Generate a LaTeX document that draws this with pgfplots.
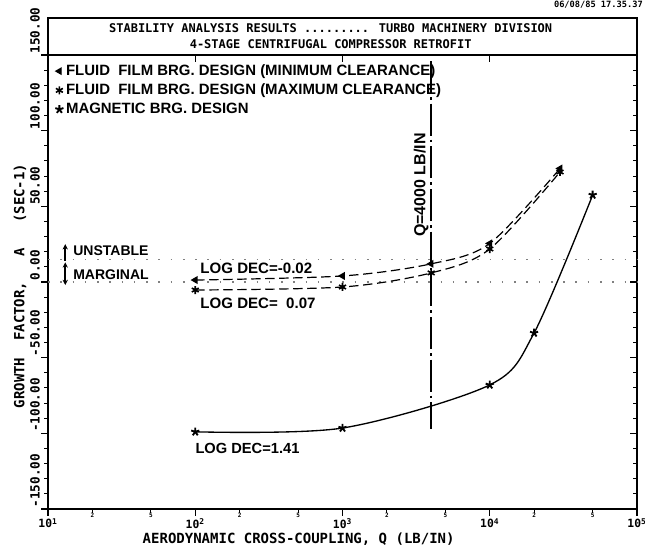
\documentclass[border=0pt]{standalone}
\usepackage{pgfplots}
\pgfplotsset{compat=1.18}
\usepackage{fontspec}
\setmainfont{Liberation Sans}
\newfontfamily\plotter{DejaVu Sans Mono}
\usetikzlibrary{arrows.meta}
\newcommand\fs[1]{\fontsize{#1}{#1}\selectfont}

\begin{document}
\begin{tikzpicture}
\begin{axis}[name=ax, scale only axis, width=441.75pt, height=340.5pt,
  xmode=log, log basis x=10, xmin=10, xmax=100000, ymin=-150, ymax=150,
  xtick={10,100,1000,10000,100000},
  xticklabels={{10\textsuperscript{1}},{10\textsuperscript{2}},{10\textsuperscript{3}},{10\textsuperscript{4}},{10\textsuperscript{5}}},
  extra x ticks={20,50,200,500,2000,5000,20000,50000},
  extra x tick labels={2,5,2,5,2,5,2,5},
  extra x tick style={major tick length=3pt, xticklabel style={font=\plotter\bfseries\fs{4.5}, yshift=2pt}},
  ytick={-150,-100,...,150},
  yticklabels={-150.00,-100.00,-50.00,0.00,50.00,100.00,150.00},
  minor y tick num=4,
  tick align=outside, xtick pos=left, ytick pos=left,
  major tick length=5pt, minor tick length=3pt,
  axis line style={line width=1.5pt},
  tick style={line width=0.8pt, black},
  xticklabel style={font=\plotter\bfseries\fs{8.5}, yshift=1.5pt},
  yticklabel style={font=\plotter\bfseries\fs{9.5}, rotate=90, anchor=south west, inner sep=1pt},
  clip=false,
  legend style={draw=none, fill=none, at={(rel axis cs:0.012,0.985)}, anchor=north west,
    font=\bfseries\fs{11.2}, row sep=0.8pt, inner sep=0pt},
  legend cell align=left,
  legend image code/.code={\draw[#1, only marks] plot coordinates {(0.1cm,0cm)};},
]
% reference lines
\addplot[forget plot, gray, line width=0.8pt, dash pattern=on 1.2pt off 8pt] coordinates {(10,15) (100000,15)};
\addplot[forget plot, gray, line width=0.8pt, dash pattern=on 1.2pt off 8pt] coordinates {(10,0) (100000,0)};
\addplot[forget plot, black, line width=1.4pt, dash pattern=on 24pt off 3pt on 2pt off 3pt] coordinates {(4000,146) (4000,-97)};

\addplot[black, line width=0.9pt, dash pattern=on 7pt off 3.5pt, smooth,
  mark=triangle*, mark size=2.6pt, mark options={solid, rotate=90}] coordinates {
  (100,1.3) (1000,4) (4000,12) (10000,25.5) (30000,75)};
\addlegendentry{FLUID\ \ FILM BRG. DESIGN (MINIMUM CLEARANCE)}
\addplot[black, line width=0.9pt, dash pattern=on 7pt off 3.5pt, smooth,
  mark=asterisk, mark size=3pt, mark options={solid, line width=1.2pt}] coordinates {
  (100,-5.3) (1000,-3.3) (4000,6) (10000,21.8) (30000,72.7)};
\addlegendentry{FLUID\ \ FILM BRG. DESIGN (MAXIMUM CLEARANCE)}
\addplot[black, line width=1pt, smooth,
  mark=star, mark size=3.2pt, mark options={solid, line width=1.4pt}] coordinates {
  (100,-99) (1000,-96.5) (10000,-68) (20000,-33.7) (50000,57.5)};
\addlegendentry{MAGNETIC BRG. DESIGN}

\draw[-{Stealth[length=4pt,width=4pt]}, line width=1.3pt] (axis cs:13.1,14) -- (axis cs:13.1,25);
\draw[{Stealth[length=4pt,width=4pt]}-{Stealth[length=4pt,width=4pt]}, line width=1.3pt] (axis cs:13.1,-2) -- (axis cs:13.1,13);
\node[anchor=west, font=\bfseries\fs{10.5}, inner sep=0pt] at (axis cs:14.8,20.5) {UNSTABLE};
\node[anchor=west, font=\bfseries\fs{10.5}, inner sep=0pt] at (axis cs:14.8,4.6) {MARGINAL};
\node[anchor=west, font=\bfseries\fs{11.3}, inner sep=0pt] at (axis cs:108,9) {LOG DEC=-0.02};
\node[anchor=west, font=\bfseries\fs{11.3}, inner sep=0pt] at (axis cs:108,-14) {LOG DEC=\ \ 0.07};
\node[anchor=west, font=\bfseries\fs{11}, inner sep=0pt] at (axis cs:100,-110) {LOG DEC=1.41};
\node[rotate=90, font=\bfseries\fs{12}, inner sep=0pt] at (axis cs:3420,64) {Q=4000 LB/IN};
\end{axis}

\begin{axis}[at={(ax.south west)}, anchor=south west, scale only axis, width=441.75pt, height=340.5pt,
  xmode=log, log basis x=10, xmin=10, xmax=100000, ymin=-150, ymax=150,
  xtick={10,100,1000,10000,100000}, ytick={-150,-100,...,150}, minor y tick num=4,
  xticklabels={}, yticklabels={},
  xtick pos=right, ytick pos=right, tick align=inside,
  major tick length=5pt, minor tick length=3pt,
  axis line style={draw=none}, tick style={line width=0.8pt, black}]
\end{axis}

\draw[line width=1.5pt] (ax.north west) rectangle ([yshift=27.75pt]ax.north east);
\node[font=\plotter\bfseries\fs{9}] at ([xshift=212pt, yshift=20.25pt]ax.north west) {STABILITY ANALYSIS RESULTS ......... TURBO MACHINERY DIVISION};
\node[font=\plotter\bfseries\fs{9}] at ([xshift=212pt, yshift=8.25pt]ax.north west) {4-STAGE CENTRIFUGAL COMPRESSOR RETROFIT};
\node[anchor=east, font=\plotter\bfseries\fs{6.5}, inner sep=0pt] at ([xshift=4.5pt, yshift=37.5pt]ax.north east) {06/08/85 17.35.37};
\node[rotate=90, font=\plotter\bfseries\fs{10.5}] at ([xshift=-21pt, yshift=-3pt]ax.west) {GROWTH\ \ FACTOR,\ \ \ A\ \ \ (SEC-1)};
\node[font=\plotter\bfseries\fs{10.5}] at ([xshift=188pt, yshift=-22.5pt]ax.south west) {AERODYNAMIC CROSS-COUPLING, Q (LB/IN)};

\pgfresetboundingbox
\path[use as bounding box] ([xshift=-36pt, yshift=-30.75pt]ax.south west) rectangle ([xshift=6pt, yshift=41.25pt]ax.north east);
\end{tikzpicture}
\end{document}
